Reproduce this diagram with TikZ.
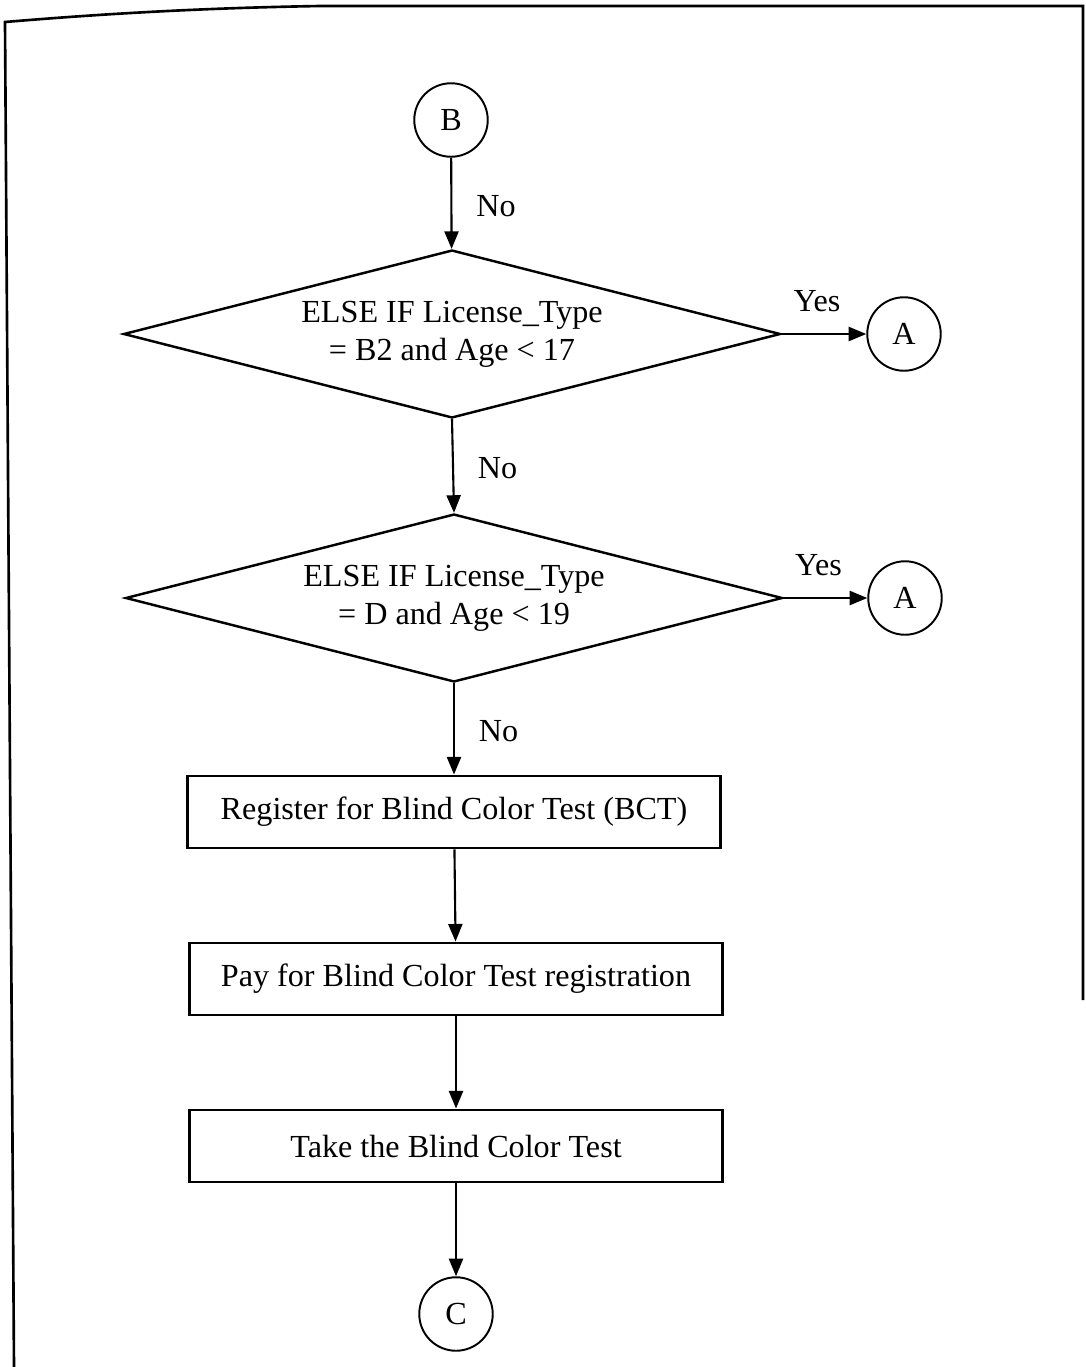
\documentclass[tikz,border=0pt]{standalone}
\usepackage{fontspec}
\setmainfont{Liberation Serif}
\usepackage{tikz}
\usetikzlibrary{arrows.meta,shapes.geometric}

\begin{document}
\begin{tikzpicture}[
  x=0.02cm, y=-0.02cm,
  every node/.style={font=\fontsize{18.3}{21.6}\selectfont, align=center},
  conn/.style={draw, circle, line width=1.1pt, minimum size=1.47cm, inner sep=0pt},
  decision/.style={draw, diamond, aspect=4, line width=1.4pt, inner sep=0pt,
                   minimum width=13.14cm, minimum height=3.36cm},
  process/.style={draw, rectangle, line width=1.4pt,
                  minimum width=10.66cm, minimum height=1.45cm},
  lbl/.style={inner sep=0.333em},
  arr/.style={-{Triangle[length=10pt, width=8pt]}, line width=1.2pt},
  frame/.style={line width=1.5pt},
]
  \useasboundingbox (0,0) rectangle (1086,1367);

  % outer frame of the scanned page
  \draw[frame] (14,1367) -- (5,22) .. controls (100,14) and (200,8) .. (320,6)
               -- (1083,6) -- (1083,1000);

  \node[conn] (B) at (451,120) {B};
  \node[decision] (D1) at (452,334) {ELSE IF License\_Type\\= B2 and Age < 17};
  \node[conn] (A1) at (904,334) {A};
  \node[decision] (D2) at (454,598) {ELSE IF License\_Type\\= D and Age < 19};
  \node[conn] (A2) at (905,598) {A};
  \node[process] (R1) at (454,812) {Register for Blind Color Test (BCT)};
  \node[process] (R2) at (456,979) {Pay for Blind Color Test registration};
  \node[process] (R3) at (456,1146) {Take the Blind Color Test};
  \node[conn] (C) at (456,1314) {C};

  \draw[arr] (B) -- node[lbl, anchor=west, xshift=0.36cm, yshift=-0.05cm] (no1) {No} (D1);
  \draw[arr] (D1.east) -- node[lbl, anchor=south, yshift=0.3cm, xshift=-0.14cm] (yes1) {Yes} (A1);
  \draw[arr] (D1.south) -- node[lbl, anchor=west, xshift=0.36cm, yshift=-0.05cm] (no2) {No} (D2.north);
  \draw[arr] (D2.east) -- node[lbl, anchor=south, yshift=0.3cm, xshift=-0.14cm] (yes2) {Yes} (A2);
  \draw[arr] (D2.south) -- node[lbl, anchor=west, xshift=0.36cm, yshift=-0.05cm] (no3) {No} (R1);
  \draw[arr] (R1) -- (R2);
  \draw[arr] (R2) -- (R3);
  \draw[arr] (R3) -- (C);
\end{tikzpicture}
\end{document}
